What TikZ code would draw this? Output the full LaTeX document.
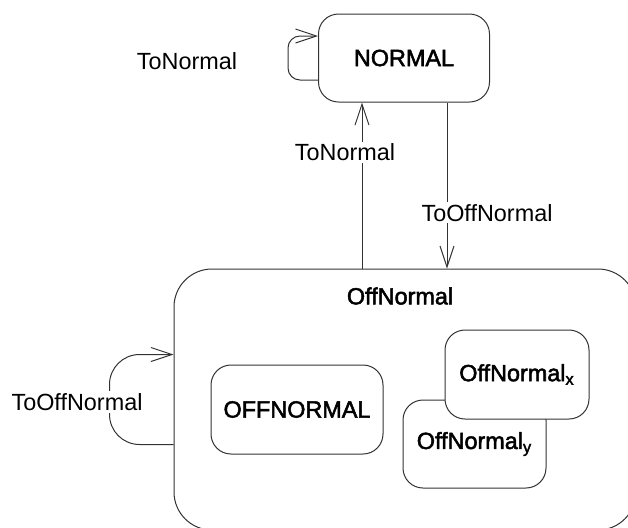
\documentclass[tikz,border=0pt]{standalone}
\usepackage{fontspec}
\setmainfont{Liberation Sans}
\newfontfamily\statefont{Liberation Sans}[FakeBold=2.2]
\usetikzlibrary{arrows.meta,positioning}
\newcommand{\fsz}{\fontsize{11.7pt}{14pt}\selectfont}
\tikzstyle{state} = [rectangle, 
rounded corners=10pt, 
text centered, 
draw=black!80, 
fill=white, 
line width=0.5pt, 
font=\statefont\fsz]
\tikzstyle{superstate} = [state, 
rounded corners=19pt]
\tikzstyle{trans} = [fill=white, 
inner sep=1pt, 
font=\fsz]
\tikzstyle{arrow} = [line width=0.5pt, draw=black!80, -{Straight Barb[length=10.5pt,width=7pt]}]

\begin{document}
\begin{tikzpicture}[x=0.5pt,y=-0.5pt]
\useasboundingbox (0,0) rectangle (628,527);
\clip (0,0) rectangle (628,527);

% States
\node (normal) [state, minimum width=85.5pt, minimum height=44pt] at (404,58) {NORMAL};
\node (offnormal) [superstate, minimum width=231pt, minimum height=130.5pt] at (405,399.5) {};
\node (title) [font=\statefont\fsz] at (400,296) {OffNormal};
\node (offnormalstate) [state, minimum width=86pt, minimum height=44.5pt] at (297,409.5) {OFFNORMAL};
\node (offy) [state, minimum width=71.5pt, minimum height=44pt] at (474.5,444) {OffNormal\textsubscript{y}};
\node (offx) [state, minimum width=72pt, minimum height=44.5pt] at (517,374.5) {OffNormal\textsubscript{x}};

% Transitions
\draw [arrow] ([xshift=-21pt]normal.south |- offnormal.north) -- ([xshift=-21pt]normal.south)
  node [trans, pos=0.7, xshift=-8.5pt] {ToNormal};
\draw [arrow] ([xshift=21.5pt]normal.south) -- ([xshift=21.5pt]normal.south |- offnormal.north)
  node [trans, pos=0.665, xshift=20pt] {ToOffNormal};
\draw [arrow, rounded corners=6pt] ([yshift=-11pt]normal.west) -| ++(-30,-44) -- ([yshift=11pt]normal.west);
\draw [arrow, rounded corners=15pt] ([yshift=-22.5pt]offnormal.west) -| ++(-64,-90) -- ([yshift=22.5pt]offnormal.west);
\node (tonormal) [trans] at (187,61) {ToNormal};
\node (tooffnormal) [trans] at (77,402) {ToOffNormal};

\end{tikzpicture}
\end{document}
